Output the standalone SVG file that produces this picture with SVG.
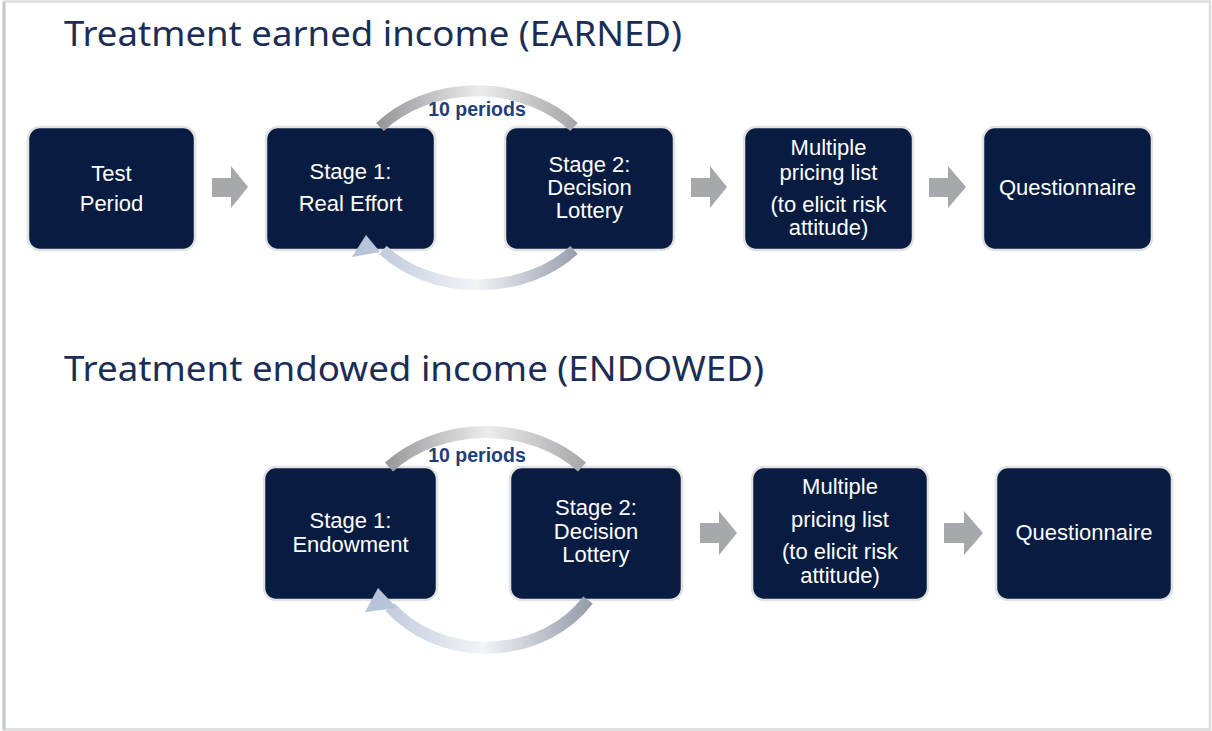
<svg xmlns="http://www.w3.org/2000/svg" width="1212" height="731" viewBox="0 0 1212 731">
<style>
.title{font-family:"Noto Sans","Open Sans",sans-serif;fill:#1b2d55;font-size:34px}
.box{fill:#081c42;stroke:#e2e2e2;stroke-width:2.5}
.lbl{font-family:"Liberation Sans",Arial,sans-serif;fill:#ffffff;font-size:22px;text-anchor:middle}
.per{font-family:"Liberation Sans",Arial,sans-serif;fill:#1f3f7a;font-size:19.5px;font-weight:bold;text-anchor:middle}
.blk{fill:#a7a8ab}
</style>
<defs>
<linearGradient id="gTop1" gradientUnits="userSpaceOnUse" x1="370" y1="0" x2="590" y2="0">
<stop offset="0" stop-color="#8e8f92"/><stop offset="0.5" stop-color="#ececec"/><stop offset="1" stop-color="#9b9c9f"/>
</linearGradient>
<linearGradient id="gBot1" gradientUnits="userSpaceOnUse" x1="590" y1="0" x2="360" y2="0">
<stop offset="0" stop-color="#8c93a3"/><stop offset="0.5" stop-color="#f2f4f7"/><stop offset="1" stop-color="#b6c3d8"/>
</linearGradient>
<linearGradient id="gTop2" gradientUnits="userSpaceOnUse" x1="375" y1="0" x2="600" y2="0">
<stop offset="0" stop-color="#8e8f92"/><stop offset="0.5" stop-color="#ececec"/><stop offset="1" stop-color="#9b9c9f"/>
</linearGradient>
<linearGradient id="gBot2" gradientUnits="userSpaceOnUse" x1="600" y1="0" x2="365" y2="0">
<stop offset="0" stop-color="#8c93a3"/><stop offset="0.5" stop-color="#f2f4f7"/><stop offset="1" stop-color="#b6c3d8"/>
</linearGradient>
</defs>
<rect x="0" y="0" width="1212" height="731" fill="#ffffff"/>
<rect x="4" y="1.5" width="1206" height="728" fill="none" stroke="#dcdcdc" stroke-width="2.5"/>
<line x1="4" y1="2" x2="4" y2="730" stroke="#c3c7cf" stroke-width="3"/>

<g id="titles">
<text class="title" x="64" y="46" textLength="618" lengthAdjust="spacingAndGlyphs">Treatment earned income (EARNED)</text>
<text class="title" x="64" y="381" textLength="700" lengthAdjust="spacingAndGlyphs">Treatment endowed income (ENDOWED)</text>
</g>

<g id="n1-test"><rect class="box" x="28" y="127" width="167" height="123" rx="12"/>
<text class="lbl" x="111.5" y="181">Test</text><text class="lbl" x="111.5" y="211">Period</text></g>
<g id="n1-stage1"><rect class="box" x="266" y="127" width="169" height="123" rx="12"/>
<text class="lbl" x="350.5" y="179">Stage 1:</text><text class="lbl" x="350.5" y="211">Real Effort</text></g>
<g id="n1-stage2"><rect class="box" x="505" y="127" width="169" height="123" rx="12"/>
<text class="lbl" x="589.5" y="172">Stage 2:</text><text class="lbl" x="589.5" y="195">Decision</text><text class="lbl" x="589.5" y="218">Lottery</text></g>
<g id="n1-mpl"><rect class="box" x="744" y="127" width="169" height="123" rx="12"/>
<text class="lbl" x="828.5" y="155">Multiple</text><text class="lbl" x="828.5" y="180">pricing list</text><text class="lbl" x="828.5" y="212">(to elicit risk</text><text class="lbl" x="828.5" y="235">attitude)</text></g>
<g id="n1-quest"><rect class="box" x="983" y="127" width="169" height="123" rx="12"/>
<text class="lbl" x="1067.5" y="195">Questionnaire</text></g>

<g id="n2-stage1"><rect class="box" x="264" y="467" width="173" height="133" rx="12"/>
<text class="lbl" x="350.5" y="528">Stage 1:</text><text class="lbl" x="350.5" y="552">Endowment</text></g>
<g id="n2-stage2"><rect class="box" x="510" y="467" width="172" height="133" rx="12"/>
<text class="lbl" x="596" y="515">Stage 2:</text><text class="lbl" x="596" y="539">Decision</text><text class="lbl" x="596" y="562">Lottery</text></g>
<g id="n2-mpl"><rect class="box" x="752" y="467" width="176" height="133" rx="12"/>
<text class="lbl" x="840" y="494">Multiple</text><text class="lbl" x="840" y="527">pricing list</text><text class="lbl" x="840" y="559">(to elicit risk</text><text class="lbl" x="840" y="583">attitude)</text></g>
<g id="n2-quest"><rect class="box" x="996" y="467" width="176" height="133" rx="12"/>
<text class="lbl" x="1084" y="540">Questionnaire</text></g>

<g id="connectors">
<polygon class="blk" points="212,178 231,178 231,166 248,187 231,208 231,197 212,197"/>
<polygon class="blk" points="691,178 710,178 710,166 727,187 710,208 710,197 691,197"/>
<polygon class="blk" points="929,178 948,178 948,166 966,187 948,208 948,197 929,197"/>
<polygon class="blk" points="700,523 719,523 719,511 737,533 719,555 719,543 700,543"/>
<polygon class="blk" points="944,523 964,523 964,511 983,533 964,555 964,543 944,543"/>

<path d="M 380,127 A 125 98 0 0 1 574,127" fill="none" stroke="url(#gTop1)" stroke-width="11"/>
<path d="M 574,250 A 125 98 0 0 1 383,250" fill="none" stroke="url(#gBot1)" stroke-width="11"/>
<polygon points="366,235 352,257 380,252" fill="#b6c3d8"/>
<text class="per" x="477" y="116">10 periods</text>

<path d="M 389,467 A 130 106 0 0 1 582,467" fill="none" stroke="url(#gTop2)" stroke-width="12"/>
<path d="M 588,600 A 122 106 0 0 1 390,607" fill="none" stroke="url(#gBot2)" stroke-width="12"/>
<polygon points="378,588 365,612 397,608" fill="#b6c3d8"/>
<text class="per" x="477" y="462">10 periods</text>
</g>
</svg>
